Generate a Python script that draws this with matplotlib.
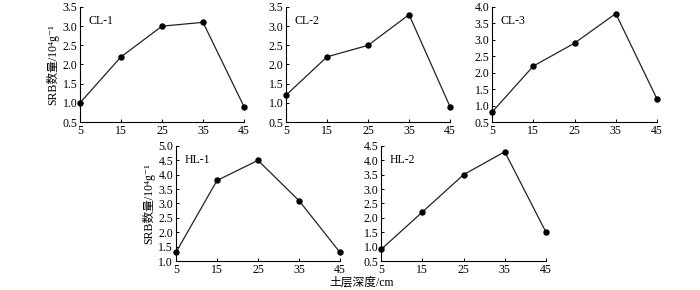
import matplotlib.pyplot as plt

plt.rcParams['font.family'] = ['Liberation Serif', 'Noto Sans CJK SC', 'DejaVu Serif']

depth = [5, 15, 25, 35, 45]
names = ['CL-1', 'CL-2', 'CL-3', 'HL-1', 'HL-2']
cl1 = [1.0, 2.2, 3.0, 3.1, 0.9]
cl2 = [1.2, 2.2, 2.5, 3.3, 0.9]
cl3 = [0.8, 2.2, 2.9, 3.8, 1.2]
hl1 = [1.3, 3.8, 4.5, 3.1, 1.3]
hl2 = [0.9, 2.2, 3.5, 4.3, 1.5]
ylims = [(0.5, 3.5), (0.5, 3.5), (0.5, 4.0), (1.0, 5.0), (0.5, 4.5)]

fig = plt.figure(figsize=(7, 2.9), dpi=100)
boxes = [
    [0.1143, 0.5793, 0.2343, 0.3966],
    [0.4086, 0.5793, 0.2343, 0.3966],
    [0.7029, 0.5793, 0.2357, 0.3966],
    [0.2514, 0.1000, 0.2343, 0.3966],
    [0.5443, 0.1000, 0.2357, 0.3966],
]
ylab = 'SRB数量/10⁴g⁻¹'
fs = 8.5

for box, name, vals, yl in zip(boxes, names, [cl1, cl2, cl3, hl1, hl2], ylims):
    ax = fig.add_axes(box)
    ax.plot(depth, vals, '-', color='#222222', lw=0.9, marker='o', ms=3.6,
            mfc='black', mec='black', clip_on=False, zorder=3)
    ax.set_xlim(5, 45)
    ax.set_ylim(*yl)
    ax.set_xticks(depth)
    lo, hi = yl
    ticks = []
    t = lo
    while t <= hi + 1e-9:
        ticks.append(round(t, 1))
        t += 0.5
    ax.set_yticks(ticks)
    ax.set_yticklabels(['%.1f' % v for v in ticks])
    for s in ['top', 'right']:
        ax.spines[s].set_visible(False)
    for s in ['left', 'bottom']:
        ax.spines[s].set_linewidth(0.8)
    ax.tick_params(direction='in', length=2.5, width=0.7, labelsize=fs, pad=2)
    ax.text(0.05, 0.93, name, transform=ax.transAxes, fontsize=fs, va='top')
    if name in ('CL-1', 'HL-1'):
        ax.set_ylabel(ylab, fontsize=fs, labelpad=2)

fig.text(0.517, 0.025, '土层深度/cm', ha='center', va='center', fontsize=fs)
fig.savefig('out.png', dpi=100)
